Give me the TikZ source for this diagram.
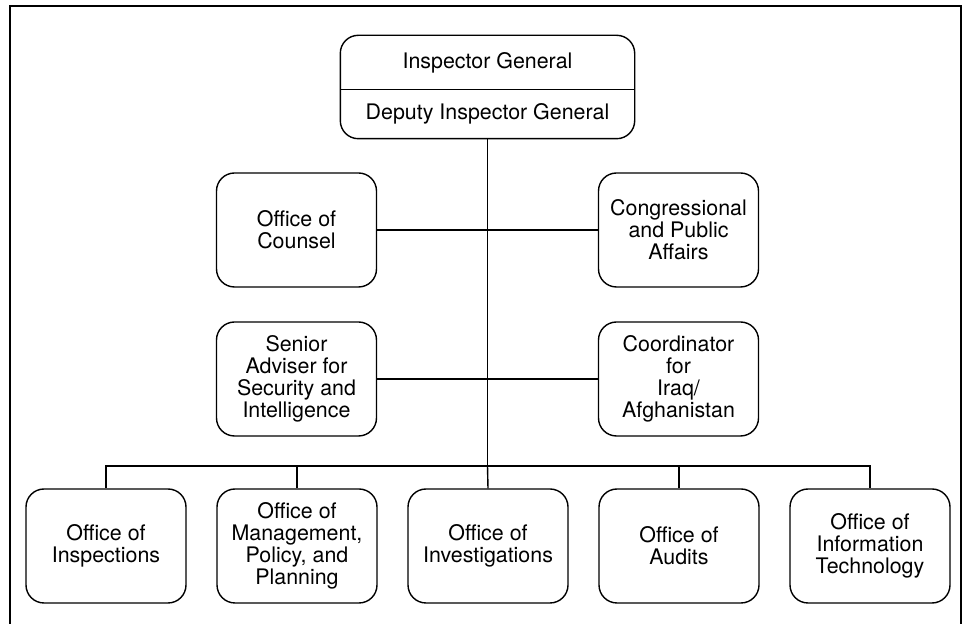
\documentclass[tikz,border=0pt]{standalone}
\usepackage{fontspec}
\setmainfont{TeX Gyre Heros}
\usetikzlibrary{positioning}
\begin{document}
\begin{tikzpicture}[x=0.5pt, y=-0.5pt, line width=0.7pt]
    \tikzstyle{office}=[draw, rounded corners=9pt, minimum width=80pt, minimum height=57pt, align=center, inner sep=1pt, font=\fontsize{10.7}{11}\selectfont]
    \tikzstyle{head}=[minimum width=146.5pt, align=center, inner sep=0pt, font=\fontsize{10.7}{11}\selectfont]
    \useasboundingbox (0,0) rectangle (970,624);
    \draw[line width=0.9pt] (10,624) -- (10,6) -- (961,6) -- (961,624);

    % top box, split in two
    \node[head, minimum height=26.5pt] (ig) at (487.5,62.5) {Inspector General};
    \node[head, minimum height=24.5pt, below of=ig, node distance=25.5pt] (dig) {Deputy Inspector General};
    \draw[rounded corners=9pt] (ig.north west) rectangle (dig.south east);
    \draw (ig.south west) -- (ig.south east);

    % staff offices
    \node[office] (counsel) at (296.5,230) {Office of\\Counsel};
    \node[office, right of=counsel, node distance=191pt] (cpa) {Congressional\\and Public\\Affairs};
    \node[office, below of=counsel, node distance=74.5pt] (sasi) {Senior\\Adviser for\\Security and\\Intelligence};
    \node[office, right of=sasi, node distance=191pt] (iraq) {Coordinator\\for\\Iraq/\\Afghanistan};

    % line offices
    \node[office] (insp) at (106,546) {Office of\\Inspections};
    \node[office, right of=insp, node distance=95.5pt] (mpp) {Office of\\Management,\\Policy, and\\Planning};
    \node[office, right of=mpp, node distance=95.5pt] (inv) {Office of\\Investigations};
    \node[office, right of=inv, node distance=95.5pt] (aud) {Office of\\Audits};
    \node[office, right of=aud, node distance=95.5pt] (oit) {Office of\\Information\\Technology};

    \coordinate (bus) at (487.5,466);
    \draw (dig.south) -- (bus);
    \draw (counsel) -- (cpa);
    \draw (sasi) -- (iraq);
    \draw (insp.north) |- (bus) -| (oit.north);
    \draw (mpp.north) -- (mpp.north |- bus);
    \draw (inv.north) -- (bus);
    \draw (aud.north) -- (aud.north |- bus);
\end{tikzpicture}
\end{document}
